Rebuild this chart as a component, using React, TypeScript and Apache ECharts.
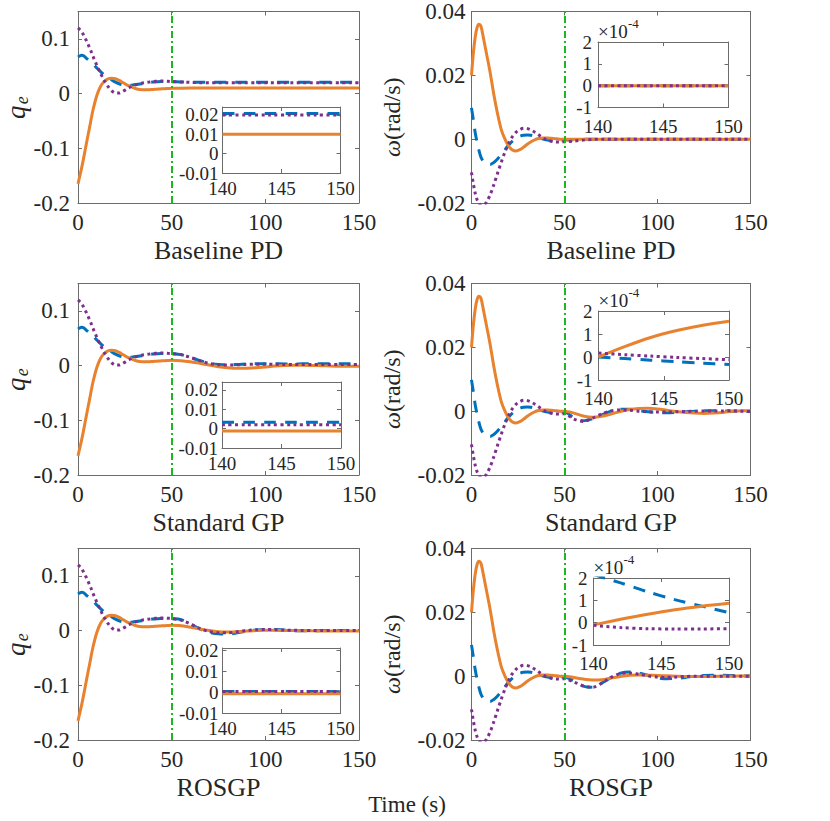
import React, { useEffect, useRef } from "react";
import * as echarts from "echarts";

const FONT = '"Liberation Serif", "Times New Roman", Times, serif';
const BLUE = "#0072BD";
const ORANGE = "#E8822E";
const PURPLE = "#7E2F8E";
const GREEN = "#1DB81D";
const AXIS = "#6b6b6b";
const INK = "#262626";

// ---------- data ----------
const panelTitles = ["Baseline PD", "Standard GP", "ROSGP"];
const xTicks = [0, 50, 100, 150];
const qTicks = [-0.2, -0.1, 0, 0.1];
const wTicks = [-0.02, 0, 0.02, 0.04];
const zoomXTicks = [140, 145, 150];
const qZoomTicks = [-0.01, 0, 0.01, 0.02];
const wZoomTicks = [-1, 0, 1, 2];
const switchTime = 50;

const tEarly = [0, 1, 2, 3, 4, 5, 6, 7, 8, 10, 12, 14, 16, 18, 20, 22, 24, 26, 28, 30, 32, 34, 36, 38, 40, 42, 44, 46, 48, 50];
const tLate = [55, 60, 65, 70, 75, 80, 85, 90, 95, 100, 105, 110, 115, 120, 125, 130, 135, 140, 145, 150];
const tZoom = [140, 142, 144, 146, 148, 150];

// q_e, first 50 s (same for all controllers)
const qOrangeEarly = [-0.165, -0.15, -0.135, -0.118, -0.1, -0.082, -0.065, -0.047, -0.03, -0.004, 0.013, 0.022, 0.027, 0.028, 0.027, 0.024, 0.02, 0.016, 0.013, 0.01, 0.008, 0.007, 0.0068, 0.007, 0.0075, 0.008, 0.0085, 0.009, 0.0093, 0.0095];
const qBlueEarly = [0.067, 0.069, 0.07, 0.069, 0.066, 0.063, 0.06, 0.057, 0.054, 0.047, 0.04, 0.034, 0.029, 0.025, 0.021, 0.018, 0.016, 0.015, 0.015, 0.016, 0.017, 0.018, 0.019, 0.02, 0.021, 0.0215, 0.022, 0.022, 0.022, 0.0218];
const qPurpleEarly = [0.12, 0.117, 0.113, 0.107, 0.1, 0.093, 0.085, 0.077, 0.068, 0.052, 0.037, 0.024, 0.013, 0.005, 0.001, 0.001, 0.004, 0.008, 0.012, 0.015, 0.017, 0.019, 0.02, 0.021, 0.022, 0.0225, 0.023, 0.023, 0.0225, 0.022];

// q_e, 55..150 s
const qOrangeLatePD = [0.0098, 0.01, 0.01, 0.01, 0.01, 0.01, 0.01, 0.01, 0.01, 0.01, 0.01, 0.01, 0.01, 0.01, 0.01, 0.01, 0.01, 0.01, 0.01, 0.01];
const qBlueLatePD = [0.0212, 0.0207, 0.0205, 0.0205, 0.0205, 0.0205, 0.0205, 0.0205, 0.0205, 0.0205, 0.0205, 0.0205, 0.0205, 0.0205, 0.0205, 0.0205, 0.0205, 0.0205, 0.0205, 0.0205];
const qPurpleLatePD = [0.0212, 0.0204, 0.02, 0.02, 0.02, 0.02, 0.02, 0.02, 0.02, 0.02, 0.02, 0.02, 0.02, 0.02, 0.02, 0.02, 0.02, 0.02, 0.02, 0.02];

const qOrangeLateGP = [0.009, 0.007, 0.004, 0.001, -0.002, -0.004, -0.005, -0.0048, -0.004, -0.0025, -0.001, 0.0, 0.0005, 0.0005, 0.0002, -0.0003, -0.0008, -0.0012, -0.0013, -0.0013];
const qBlueLateGP = [0.02, 0.015, 0.009, 0.004, 0.002, 0.0015, 0.002, 0.003, 0.0035, 0.0035, 0.0033, 0.003, 0.003, 0.0032, 0.0034, 0.0034, 0.0034, 0.0033, 0.0033, 0.0033];
const qPurpleLateGP = [0.02, 0.015, 0.009, 0.004, 0.0015, 0.001, 0.0015, 0.002, 0.0025, 0.0025, 0.0023, 0.002, 0.002, 0.002, 0.002, 0.002, 0.002, 0.002, 0.002, 0.002];

const qOrangeLateRO = [0.009, 0.006, 0.003, 0.0, -0.002, -0.0025, -0.002, -0.001, 0.0, 0.0005, 0.0005, 0.0002, 0.0, -0.0003, -0.0005, -0.0006, -0.0007, -0.0008, -0.0008, -0.0008];
const qBlueLateRO = [0.02, 0.012, 0.003, -0.003, -0.006, -0.0065, -0.004, -0.001, 0.001, 0.002, 0.002, 0.001, 0.0, -0.0005, -0.0005, 0.0, 0.0004, 0.0003, 0.0002, 0.0002];
const qPurpleLateRO = [0.019, 0.012, 0.004, -0.002, -0.004, -0.004, -0.002, 0.0, 0.0015, 0.002, 0.0015, 0.001, 0.0005, 0.0002, 0.0, 0.0, 0.0002, 0.0002, 0.0002, 0.0002];

// omega, first 50 s
const wOrangeEarly = [0.02, 0.027, 0.032, 0.035, 0.036, 0.0355, 0.033, 0.03, 0.027, 0.021, 0.014, 0.008, 0.003, 0.0, -0.0022, -0.0034, -0.0037, -0.0033, -0.0025, -0.0016, -0.0008, -0.0002, 0.0002, 0.0004, 0.0004, 0.0003, 0.0002, 0.0001, 0.0, 0.0];
const wBlueEarly = [0.0098, 0.006, 0.002, -0.001, -0.0035, -0.0055, -0.0067, -0.0074, -0.0078, -0.0079, -0.0073, -0.0062, -0.0048, -0.0033, -0.0018, -0.0006, 0.0003, 0.0009, 0.0012, 0.0013, 0.0012, 0.0009, 0.0005, 0.0001, -0.0002, -0.0004, -0.0005, -0.0005, -0.0004, -0.0003];
const wPurpleEarly = [-0.0104, -0.014, -0.017, -0.019, -0.0202, -0.0207, -0.0208, -0.0205, -0.0198, -0.0175, -0.0143, -0.0107, -0.0072, -0.004, -0.0013, 0.0008, 0.0022, 0.003, 0.0034, 0.0033, 0.0029, 0.0022, 0.0014, 0.0006, -0.0001, -0.0005, -0.0008, -0.0009, -0.0009, -0.0008];

// omega, 55..150 s
const wOrangeLatePD = [0, 0, 0, 0, 0, 0, 0, 0, 0, 0, 0, 0, 0, 0, 0, 0, 0, 0, 0, 0];
const wBlueLatePD = [-0.0002, -0.0001, 0, 0, 0, 0, 0, 0, 0, 0, 0, 0, 0, 0, 0, 0, 0, 0, 0, 0];
const wPurpleLatePD = [-0.0006, -0.0003, -0.0001, 0, 0, 0, 0, 0, 0, 0, 0, 0, 0, 0, 0, 0, 0, 0, 0, 0];

const wOrangeLateGP = [-0.0006, -0.0015, -0.0019, -0.0016, -0.0009, -0.0001, 0.0005, 0.0008, 0.0009, 0.0007, 0.0003, -0.0001, -0.0004, -0.0006, -0.0007, -0.0006, -0.0004, 0.0, 0.0001, 0.00016];
const wBlueLateGP = [-0.002, -0.003, -0.0024, -0.0012, 0.0, 0.0006, 0.0006, 0.0002, -0.0002, -0.0004, -0.0005, -0.0004, -0.0002, 0.0, 0.0001, 0.0001, 0.0001, 0.0, -0.00002, -0.00003];
const wPurpleLateGP = [-0.0025, -0.0032, -0.0022, -0.0009, 0.0001, 0.0004, 0.0003, 0.0, -0.0002, -0.0003, -0.0003, -0.0002, -0.0001, 0.0, 0.00005, 0.00005, 0.00003, 0.00015, 0.0, -0.00012];

const wOrangeLateRO = [-0.0004, -0.0009, -0.0012, -0.0011, -0.0006, -0.0001, 0.0003, 0.0004, 0.0003, 0.0002, 0.0001, 0.0, -0.0001, -0.0001, -0.0001, -0.0001, 0.0, -0.00001, 0.00005, 0.00009];
const wBlueLateRO = [-0.0015, -0.0031, -0.0035, -0.0022, -0.0004, 0.0009, 0.0013, 0.001, 0.0002, -0.0005, -0.0008, -0.0007, -0.0004, 0.0, 0.0002, 0.0003, 0.0003, 0.00022, 0.00012, 0.000045];
const wPurpleLateRO = [-0.0018, -0.003, -0.0035, -0.0022, -0.0004, 0.0008, 0.001, 0.0006, 0.0001, -0.0003, -0.0004, -0.0003, -0.0001, 0.0, 0.0, 0.0, 0.0, -0.00001, -0.000027, -0.000027];

// zoomed insets, 140..150 s
const qZoomBluePD = [0.0206, 0.0206, 0.0206, 0.0206, 0.0206, 0.0206];
const qZoomOrangePD = [0.01, 0.01, 0.01, 0.01, 0.01, 0.01];
const qZoomPurplePD = [0.0199, 0.0199, 0.0199, 0.0199, 0.0199, 0.0199];
const qZoomBlueGP = [0.0033, 0.0033, 0.0033, 0.0033, 0.0033, 0.0033];
const qZoomOrangeGP = [-0.0013, -0.0013, -0.0013, -0.0013, -0.0013, -0.0013];
const qZoomPurpleGP = [0.002, 0.002, 0.002, 0.002, 0.002, 0.002];
const qZoomBlueRO = [0.0002, 0.0002, 0.0002, 0.0002, 0.0003, 0.0001];
const qZoomOrangeRO = [-0.0008, -0.0008, -0.0008, -0.0008, -0.0008, -0.0008];
const qZoomPurpleRO = [0.0002, 0.0002, 0.0002, 0.0002, 0.0002, 0.0002];

// omega insets in units of 1e-4
const wZoomBluePD = [0, 0, 0, 0, 0, 0];
const wZoomOrangePD = [0, 0, 0, 0, 0, 0];
const wZoomPurplePD = [0, 0, 0, 0, 0, 0];
const wZoomBlueGP = [0, -0.07, -0.14, -0.2, -0.27, -0.33];
const wZoomOrangeGP = [0, 0.45, 0.85, 1.15, 1.38, 1.55];
const wZoomPurpleGP = [0.17, 0.1, 0.04, -0.02, -0.07, -0.12];
const wZoomBlueRO = [2.15, 1.78, 1.38, 1.03, 0.74, 0.45];
const wZoomOrangeRO = [-0.1, 0.15, 0.38, 0.58, 0.74, 0.87];
const wZoomPurpleRO = [-0.12, -0.22, -0.27, -0.28, -0.28, -0.27];

// ---------- layout (px) ----------
const colLeft = [78, 471.5];
const colWidth = [281, 279];
const rowTop = [11.5, 283.5, 548.5];
const mainHeight = 191.5;
const qInsetRects = [
  [222.5, 107, 118, 66],
  [222, 382, 119, 66],
  [222.5, 648, 118, 65],
];
const wInsetRects = [
  [598, 42, 130.5, 65.5],
  [598.5, 311, 130.5, 69],
  [593.5, 578, 135.5, 67],
];
const qInsetMax = [0.024, 0.024, 0.021];

function fmt(v: number) {
  return String(parseFloat(Number(v).toFixed(6)));
}

const tFull = tEarly.concat(tLate);
const zip = (t: number[], v: number[]) => t.map((x, i) => [x, v[i]]);

function buildOption() {
  const grid: any[] = [];
  const xAxis: any[] = [];
  const yAxis: any[] = [];
  const series: any[] = [];
  const graphic: any[] = [];

  const axLine = { show: true, onZero: false, lineStyle: { color: AXIS, width: 1 } };
  const tick = (vals: number[]) => ({
    show: true, inside: true, length: 4, customValues: vals,
    lineStyle: { color: AXIS, width: 1 },
  });
  const lab = (vals: number[], fs: number, m: number) => ({
    show: true, customValues: vals, formatter: (v: number) => fmt(v),
    showMinLabel: true, showMaxLabel: true, hideOverlap: false,
    fontSize: fs, fontFamily: FONT, color: INK, margin: m,
  });

  const addPanel = (
    rect: number[], xr: number[], xt: number[], yr: number[], yt: number[],
    fs: number, xm: number, ym: number,
    lines: { data: number[][]; color: string; dash: any }[], marker: boolean,
  ) => {
    const g = grid.length;
    grid.push({ left: rect[0], top: rect[1], width: rect[2], height: rect[3], containLabel: false });
    const xi = xAxis.length;
    const yi = yAxis.length;
    xAxis.push({ type: "value", gridIndex: g, position: "bottom", min: xr[0], max: xr[1], interval: xr[2],
      axisLine: axLine, axisTick: tick(xt), axisLabel: lab(xt, fs, xm), splitLine: { show: false } });
    xAxis.push({ type: "value", gridIndex: g, position: "top", min: xr[0], max: xr[1], interval: xr[2],
      axisLine: axLine, axisTick: tick(xt), axisLabel: { show: false }, splitLine: { show: false } });
    yAxis.push({ type: "value", gridIndex: g, position: "left", min: yr[0], max: yr[1], interval: yr[2],
      axisLine: axLine, axisTick: tick(yt), axisLabel: lab(yt, fs, ym), splitLine: { show: false } });
    yAxis.push({ type: "value", gridIndex: g, position: "right", min: yr[0], max: yr[1], interval: yr[2],
      axisLine: axLine, axisTick: tick(yt), axisLabel: { show: false }, splitLine: { show: false } });
    lines.forEach((ln, k) => {
      const s: any = {
        type: "line", xAxisIndex: xi, yAxisIndex: yi, data: ln.data,
        showSymbol: false, symbol: "none", smooth: 0.3, clip: true, silent: true,
        lineStyle: { color: ln.color, width: 3, type: ln.dash, cap: "butt" },
      };
      if (marker && k === lines.length - 1) {
        s.markLine = {
          silent: true, symbol: ["none", "none"], label: { show: false },
          lineStyle: { color: GREEN, width: 2, type: [7, 3, 2, 3] },
          data: [{ xAxis: switchTime }],
        };
      }
      series.push(s);
    });
  };

  const dashB = [12, 9];
  const dotP = [3, 3.5];

  const qLate = [
    [qBlueLatePD, qOrangeLatePD, qPurpleLatePD],
    [qBlueLateGP, qOrangeLateGP, qPurpleLateGP],
    [qBlueLateRO, qOrangeLateRO, qPurpleLateRO],
  ];
  const wLate = [
    [wBlueLatePD, wOrangeLatePD, wPurpleLatePD],
    [wBlueLateGP, wOrangeLateGP, wPurpleLateGP],
    [wBlueLateRO, wOrangeLateRO, wPurpleLateRO],
  ];
  const qZoom = [
    [qZoomBluePD, qZoomOrangePD, qZoomPurplePD],
    [qZoomBlueGP, qZoomOrangeGP, qZoomPurpleGP],
    [qZoomBlueRO, qZoomOrangeRO, qZoomPurpleRO],
  ];
  const wZoom = [
    [wZoomBluePD, wZoomOrangePD, wZoomPurplePD],
    [wZoomBlueGP, wZoomOrangeGP, wZoomPurpleGP],
    [wZoomBlueRO, wZoomOrangeRO, wZoomPurpleRO],
  ];
  const colors = [BLUE, ORANGE, PURPLE];
  const dashes = [dashB, "solid", dotP];
  const qEarly = [qBlueEarly, qOrangeEarly, qPurpleEarly];
  const wEarly = [wBlueEarly, wOrangeEarly, wPurpleEarly];

  for (let r = 0; r < 3; r++) {
    // main q_e
    addPanel([colLeft[0], rowTop[r], colWidth[0], mainHeight], [0, 150, 50], xTicks, [-0.2, 0.15, 0.1], qTicks,
      23, 8, 8,
      [0, 1, 2].map((k) => ({ data: zip(tFull, qEarly[k].concat(qLate[r][k])), color: colors[k], dash: dashes[k] })), true);
    // main omega
    addPanel([colLeft[1], rowTop[r], colWidth[1], mainHeight], [0, 150, 50], xTicks, [-0.02, 0.04, 0.02], wTicks,
      23, 8, 6,
      [0, 1, 2].map((k) => ({ data: zip(tFull, wEarly[k].concat(wLate[r][k])), color: colors[k], dash: dashes[k] })), true);
    // inset q_e
    addPanel(qInsetRects[r], [140, 150, 5], zoomXTicks, [-0.01, qInsetMax[r], 0.01], qZoomTicks,
      19, 6, 4,
      [0, 1, 2].map((k) => ({ data: zip(tZoom, qZoom[r][k]), color: colors[k], dash: dashes[k] })), false);
    // inset omega
    addPanel(wInsetRects[r], [140, 150, 5], zoomXTicks, [-1, 2, 1], wZoomTicks,
      19, 9, 6,
      [0, 1, 2].map((k) => ({ data: zip(tZoom, wZoom[r][k]), color: colors[k], dash: dashes[k] })), false);

    // subplot titles
    const ty = rowTop[r] + mainHeight + 47;
    for (let c = 0; c < 2; c++) {
      graphic.push({
        type: "text", x: colLeft[c] + colWidth[c] / 2, y: ty, silent: true,
        style: { text: panelTitles[r], fontFamily: FONT, fontSize: 26, fill: INK, align: "center", verticalAlign: "middle" },
      });
    }
    const cy = rowTop[r] + mainHeight / 2;
    // q_e label
    graphic.push({
      type: "group", x: 16, y: cy, rotation: Math.PI / 2, silent: true,
      children: [
        { type: "text", x: -5, y: 0, style: { text: "q", fontFamily: FONT, fontStyle: "italic", fontSize: 27, fill: INK, align: "center", verticalAlign: "middle" } },
        { type: "text", x: 7, y: 6, style: { text: "e", fontFamily: FONT, fontStyle: "italic", fontSize: 18, fill: INK, align: "center", verticalAlign: "middle" } },
      ],
    });
    // omega label
    graphic.push({
      type: "text", x: 392, y: cy + 10, rotation: Math.PI / 2, silent: true,
      style: {
        text: "{w|ω}(rad/s)", fontFamily: FONT, fontSize: 24, fill: INK, align: "center", verticalAlign: "middle",
        rich: { w: { fontFamily: FONT, fontStyle: "italic", fontSize: 24, fill: INK } },
      },
    });
    // x10^-4 exponent
    const wr = wInsetRects[r];
    graphic.push({
      type: "text", x: wr[0], y: wr[1] - 11, silent: true,
      style: { text: "×10", fontFamily: FONT, fontSize: 19, fill: INK, align: "left", verticalAlign: "middle" },
    });
    graphic.push({
      type: "text", x: wr[0] + 30, y: wr[1] - 19, silent: true,
      style: { text: "-4", fontFamily: FONT, fontSize: 13, fill: INK, align: "left", verticalAlign: "middle" },
    });
  }

  graphic.push({
    type: "text", x: 407, y: 804, silent: true,
    style: { text: "Time (s)", fontFamily: FONT, fontSize: 23, fill: INK, align: "center", verticalAlign: "middle" },
  });

  return {
    animation: false,
    backgroundColor: "#ffffff",
    textStyle: { fontFamily: FONT },
    grid, xAxis, yAxis, series, graphic,
  };
}

export default function App() {
  const ref = useRef<HTMLDivElement>(null);
  useEffect(() => {
    if (!ref.current) return;
    const chart = echarts.init(ref.current, undefined, { renderer: "svg" });
    chart.setOption(buildOption() as any);
    return () => chart.dispose();
  }, []);
  return (
    <div
      ref={ref}
      style={{ position: "absolute", left: 0, top: 0, width: 830, height: 821, background: "#fff" }}
    />
  );
}
